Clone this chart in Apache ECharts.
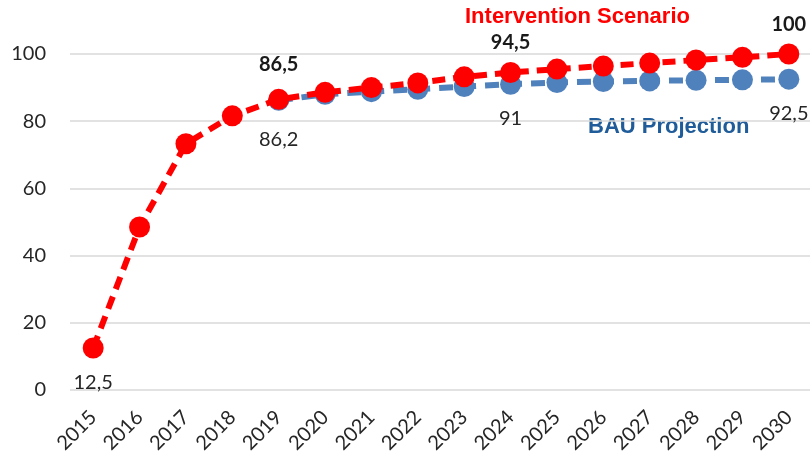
<!DOCTYPE html>
<html>
<head>
<meta charset="utf-8">
<script src="https://cdn.jsdelivr.net/npm/echarts@6/dist/echarts.min.js"></script>
<style>
  html, body { margin: 0; padding: 0; background: #fff; }
  #chart { width: 810px; height: 461px; }
</style>
</head>
<body>
<div id="chart"></div>
<script>
// Years on the horizontal axis
const years = ['2015','2016','2017','2018','2019','2020','2021','2022','2023','2024','2025','2026','2027','2028','2029','2030'];
// Business-as-usual projection (projected from 2019 on)
const bauValues = [null, null, null, null, 86.2, 88.0, 88.8, 89.5, 90.3, 91.0, 91.5, 91.8, 92.0, 92.2, 92.3, 92.5];
// Intervention scenario
const interventionValues = [12.5, 48.5, 73.3, 81.6, 86.5, 88.6, 90.0, 91.4, 93.2, 94.5, 95.5, 96.4, 97.3, 98.2, 99.0, 100];
// Years whose values are printed
const bauLabelYears = ['2019', '2024', '2030'];
const interventionLabelYears = ['2019', '2024', '2030'];
const baselineLabelYears = ['2015'];
const yTicks = [0, 20, 40, 60, 80, 100];

const fmt = v => String(v).replace('.', ',');
const tickFont = 'Lato, "Open Sans", sans-serif';

const plainLabel = {
  position: 'bottom', distance: 14, fontSize: 20, color: '#262626', fontFamily: tickFont,
  formatter: p => fmt(p.value)
};
const boldLabel = {
  position: 'top', distance: 9, fontSize: 20, fontWeight: 'bold', color: '#1a1a1a', fontFamily: tickFont,
  formatter: p => fmt(p.value)
};
// The 2019 labels sit a little further from their markers
const farOffsets = { '2019': 5 };

function labelled(values, rules) {
  return values.map((v, i) => {
    if (v === null) return '-';
    for (const [shown, label] of rules) {
      if (shown.includes(years[i])) {
        const l = Object.assign({ show: true }, label);
        if (farOffsets[years[i]]) l.distance = label.distance + farOffsets[years[i]];
        return { value: v, label: l };
      }
    }
    return v;
  });
}

const chart = echarts.init(document.getElementById('chart'));
chart.setOption({
  animation: false,
  grid: { left: 70, right: -2, top: 54, bottom: 71, containLabel: false, outerBoundsMode: 'none' },
  xAxis: {
    type: 'category',
    data: years,
    boundaryGap: true,
    axisLine: { show: false },
    axisTick: { show: false },
    axisLabel: { rotate: 45, margin: 24, fontSize: 20, color: '#262626', fontFamily: tickFont, interval: 0 }
  },
  yAxis: {
    type: 'value',
    min: yTicks[0],
    max: yTicks[yTicks.length - 1],
    interval: 20,
    axisLine: { show: false },
    axisTick: { show: false },
    axisLabel: { fontSize: 20, color: '#262626', fontFamily: tickFont, margin: 24 },
    splitLine: { lineStyle: { color: '#d9d9d9', width: 1.5 } }
  },
  graphic: [
    { type: 'text', left: 465, top: 6, style: { text: 'Intervention Scenario', fill: '#ff0000', font: 'bold 22px "Liberation Sans", Arial, sans-serif' } },
    { type: 'text', left: 588, top: 116, style: { text: 'BAU Projection', fill: '#1f5c99', font: 'bold 22px "Liberation Sans", Arial, sans-serif' } }
  ],
  series: [
    {
      name: 'BAU Projection',
      type: 'line',
      data: labelled(bauValues, [[bauLabelYears, plainLabel]]),
      symbol: 'circle',
      symbolSize: 21,
      itemStyle: { color: '#4f81bd' },
      lineStyle: { color: '#4f81bd', width: 6, type: [14, 9] },
      z: 2
    },
    {
      name: 'Intervention Scenario',
      type: 'line',
      data: labelled(interventionValues, [[interventionLabelYears, boldLabel], [baselineLabelYears, plainLabel]]),
      symbol: 'circle',
      symbolSize: 21,
      itemStyle: { color: '#ff0000' },
      lineStyle: { color: '#ff0000', width: 6, type: [13, 8] },
      z: 3
    }
  ]
});
</script>
</body>
</html>
